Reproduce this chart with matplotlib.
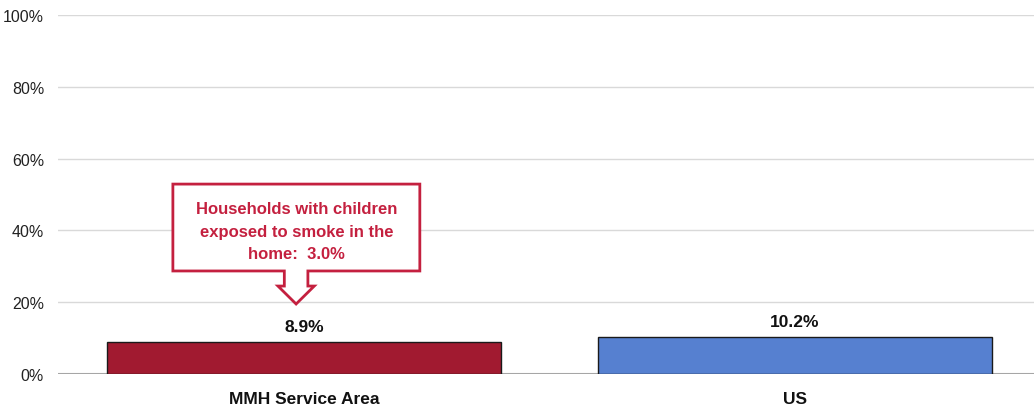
import matplotlib
matplotlib.use("Agg")
import matplotlib.pyplot as plt
from matplotlib.patches import Polygon
from matplotlib import font_manager

# Data
categories = ["MMH Service Area", "US"]
values = [8.9, 10.2]
bar_colors = ["#A11A30", "#5680D0"]
y_ticks = [0, 20, 40, 60, 80, 100]
callout_text = "Households with children\nexposed to smoke in the\nhome:  3.0%"

# Pick a condensed font if there is one
names = {f.name for f in font_manager.fontManager.ttflist}
family = "Liberation Sans Narrow" if "Liberation Sans Narrow" in names else "Liberation Sans"
plt.rcParams["font.family"] = [family, "DejaVu Sans"]

fig = plt.figure(figsize=(10.34, 4.10), dpi=100)
ax = fig.add_axes([58 / 1034, 35 / 410, 976 / 1034, 359 / 410])

x = range(len(categories))
ax.bar(x, values, width=0.802, color=bar_colors, edgecolor="#1a1a1a", linewidth=1, zorder=3)

for xi, v in zip(x, values):
    ax.text(xi, v + 2.2, f"{v:.1f}%", ha="center", va="bottom", fontsize=12.5,
            fontweight="bold", color="#111111", zorder=4)

# the chart runs a bit past the right edge of the picture
ax.set_xlim(-0.501, 1.487)
ax.set_ylim(0, 100)
ax.set_yticks(y_ticks)
ax.set_yticklabels([f"{t}%" for t in y_ticks], fontsize=11.5, color="#222222")
ax.set_xticks(list(x))
ax.set_xticklabels(categories, fontsize=12.5, fontweight="bold", color="#111111")
ax.tick_params(axis="both", length=0)
ax.tick_params(axis="y", pad=10)
ax.tick_params(axis="x", pad=12)

ax.grid(axis="y", color="#D9D9D9", linewidth=1, zorder=0)
ax.axhline(0, color="#A6A6A6", linewidth=1.5, zorder=2)
for s in ax.spines.values():
    s.set_visible(False)

# Callout above the first bar
cx = -0.016
bx0, bx1 = -0.267, 0.236
by0, by1 = 28.7, 52.9
sw, hw = 0.024, 0.037
neck = 24.5
tip = values[0] + 10.6
pts = [(bx0, by1), (bx1, by1), (bx1, by0), (cx + sw, by0), (cx + sw, neck),
       (cx + hw, neck), (cx, tip), (cx - hw, neck), (cx - sw, neck),
       (cx - sw, by0), (bx0, by0)]
ax.add_patch(Polygon(pts, closed=True, facecolor="white", edgecolor="#C4203F",
                     linewidth=2, zorder=5))
ax.text((bx0 + bx1) / 2, (by0 + by1) / 2 - 1.0, callout_text, ha="center", va="center",
        fontsize=12, fontweight="bold", color="#C4203F", linespacing=1.65, zorder=6)

fig.savefig("out.png", dpi=100)
